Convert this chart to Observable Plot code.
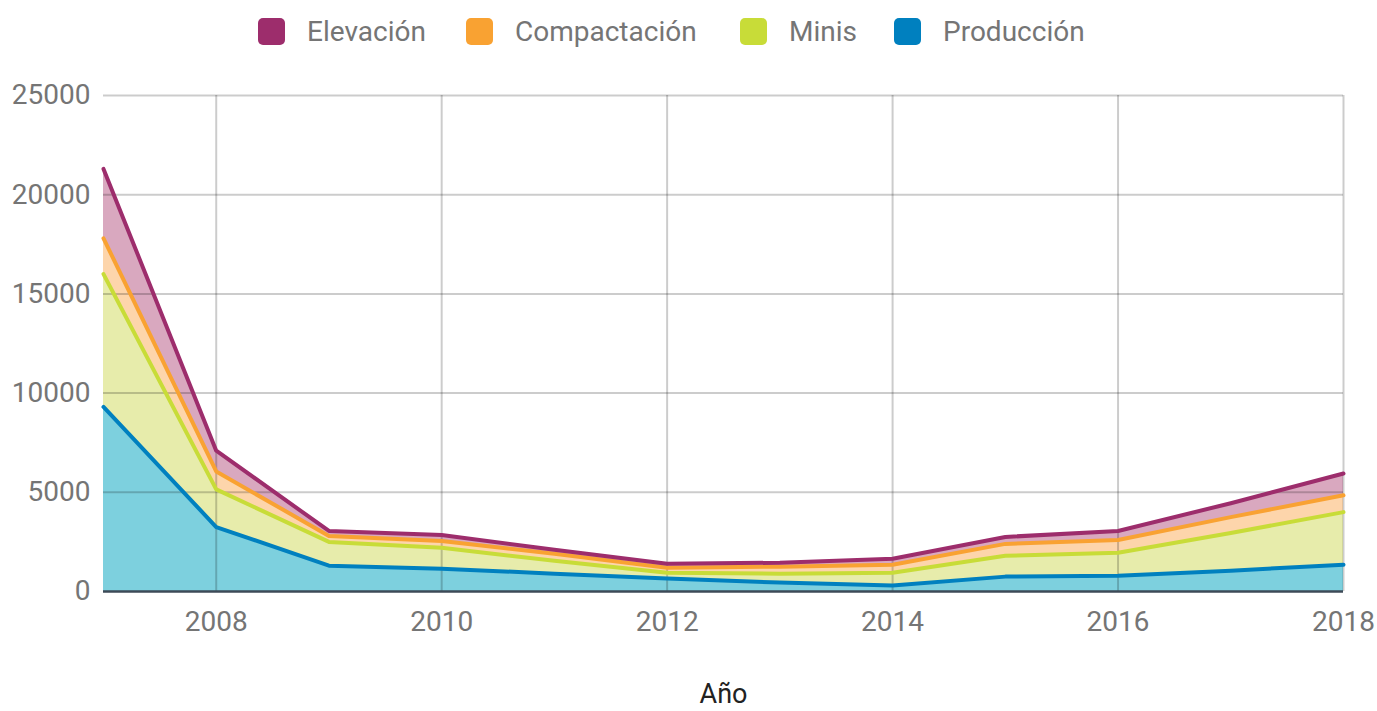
<!DOCTYPE html>
<html>
<head>
<meta charset="utf-8">
<script src="https://cdn.jsdelivr.net/npm/d3@7"></script>
<script src="https://cdn.jsdelivr.net/npm/@observablehq/plot@0.6"></script>
<style>
  html, body { margin: 0; padding: 0; background: #fff; }
  #wrap { position: relative; width: 1377px; height: 711px; font-family: Roboto, sans-serif; }
  #legend { position: relative; height: 62px; }
  .item { position: absolute; top: 15px; display: flex; align-items: center; font-size: 28px; color: #757575; }
  .sw { width: 27px; height: 27px; border-radius: 5px; margin-right: 22px; }
</style>
</head>
<body>
<div id="wrap">
  <div id="legend"></div>
  <div id="chart"></div>
</div>
<script>
const years = [2007, 2008, 2009, 2010, 2011, 2012, 2013, 2014, 2015, 2016, 2017, 2018];
const series = ["Producción", "Minis", "Compactación", "Elevación"]; // bottom to top
const produccion   = [9300, 3250, 1300, 1150, 900, 650, 450, 300, 750, 800, 1050, 1350];
const minis        = [6700, 1900, 1200, 1050, 650, 300, 450, 650, 1050, 1150, 1900, 2650];
const compactacion = [1800, 900, 300, 350, 350, 250, 350, 400, 600, 650, 800, 850];
const elevacion    = [3500, 1050, 250, 300, 200, 200, 200, 300, 350, 450, 700, 1100];
const xTicks = [2008, 2010, 2012, 2014, 2016, 2018];
const yTicks = [0, 5000, 10000, 15000, 20000, 25000];
const legendOrder = ["Elevación", "Compactación", "Minis", "Producción"];

const lineColors = {"Producción": "#0080bf", "Minis": "#c8dc38", "Compactación": "#f9a232", "Elevación": "#9d2d6c"};
const fillColors = {"Producción": "#7dd0de", "Minis": "#e7ecab", "Compactación": "#fdd5ab", "Elevación": "#d9a8bf"};

const values = {"Producción": produccion, "Minis": minis, "Compactación": compactacion, "Elevación": elevacion};

// build stacked table
const rows = [];
years.forEach((yr, i) => {
  let base = 0;
  for (const s of series) {
    const v = values[s][i];
    rows.push({year: yr, series: s, y1: base, y2: base + v});
    base += v;
  }
});

// legend
const leg = document.getElementById("legend");
const lefts = [258, 466, 740, 894];
legendOrder.forEach((s, i) => {
  const it = document.createElement("div");
  it.className = "item";
  it.style.left = lefts[i] + "px";
  it.innerHTML = `<div class="sw" style="background:${lineColors[s]}"></div><span>${s}</span>`;
  leg.appendChild(it);
});

const marks = [
  Plot.areaY(rows, {x: "year", y1: "y1", y2: "y2", z: "series", fill: "series"}),
  Plot.ruleY(yTicks.filter(d => d > 0), {stroke: "#000", strokeOpacity: 0.2, strokeWidth: 2}),
  Plot.ruleX(xTicks, {stroke: "#000", strokeOpacity: 0.2, strokeWidth: 2}),
];
for (const s of series) {
  marks.push(Plot.lineY(rows.filter(r => r.series === s), {x: "year", y: "y2", stroke: lineColors[s], strokeWidth: 4, strokeLinejoin: "round"}));
}
marks.push(Plot.ruleY([0], {stroke: "#3d4a57", strokeWidth: 2.5}));
marks.push(Plot.text(["Año"], {frameAnchor: "bottom", lineAnchor: "middle", dy: 103, fontSize: 27, fill: "#222"}));

const chart = Plot.plot({
  width: 1377,
  height: 649,
  marginTop: 33,
  marginBottom: 120,
  marginLeft: 103,
  marginRight: 34,
  style: {fontFamily: "Roboto, sans-serif", fontSize: "28px", color: "#757575", background: "#fff"},
  x: {domain: [2007, 2018], ticks: xTicks, tickSize: 0, tickPadding: 20, tickFormat: d => String(d), label: null},
  y: {domain: [0, 25000], ticks: yTicks, tickSize: 0, tickPadding: 13, tickFormat: d => String(d), label: null},
  color: {domain: series, range: series.map(s => fillColors[s])},
  marks
});
document.getElementById("chart").appendChild(chart);
</script>
</body>
</html>
